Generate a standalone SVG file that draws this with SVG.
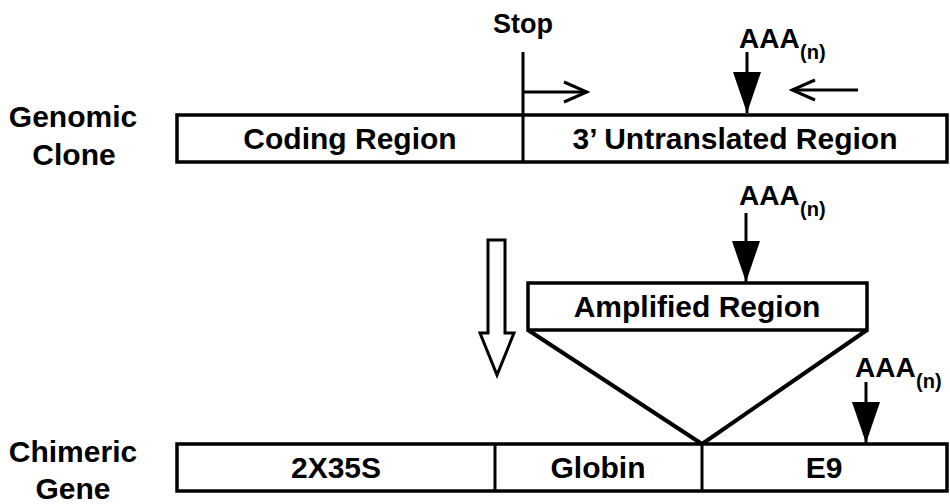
<svg xmlns="http://www.w3.org/2000/svg" width="950" height="504" viewBox="0 0 950 504">
<style>
text{font-family:"Liberation Sans",Arial,Helvetica,sans-serif;fill:#000;text-anchor:middle;font-weight:bold;}
.lbl{font-size:30px;}
.big{font-size:30px;}
.aaa{font-size:28px;text-anchor:start;}
.sub{font-size:20px;text-anchor:start;}
.box{fill:#fff;stroke:#000;stroke-width:3.5;}
.div{stroke:#000;stroke-width:3;fill:none;}
.shaft{stroke:#000;stroke-width:3;fill:none;}
.open{stroke:#000;stroke-width:3;fill:none;}
.trap{stroke:#000;stroke-width:4;fill:none;}
</style>
<defs>
<marker id="filled" markerUnits="userSpaceOnUse" markerWidth="42" markerHeight="28" viewBox="0 0 42 28" refX="41" refY="14" orient="auto">
<path d="M0,0 L41,14 L0,28 z" fill="#000"/>
</marker>
<marker id="openhead" markerUnits="userSpaceOnUse" markerWidth="28" markerHeight="26" viewBox="0 0 28 26" refX="25" refY="13" orient="auto">
<path d="M2,3 L25,13 L2,23" fill="none" stroke="#000" stroke-width="3"/>
</marker>
</defs>

<g id="label-genomic">
<text class="lbl" x="73" y="127">Genomic</text>
<text class="lbl" x="74" y="165">Clone</text>
</g>
<g id="label-chimeric">
<text class="lbl" x="73" y="462">Chimeric</text>
<text class="lbl" x="73" y="499">Gene</text>
</g>

<g id="genomic-clone">
<rect class="box" x="177" y="115" width="770" height="47"/>
<line class="div" x1="523" y1="52" x2="523" y2="162"/>
<text class="big" x="350" y="149">Coding Region</text>
<text class="big" x="735" y="149">3’ Untranslated Region</text>
</g>

<g id="stop">
<text style="font-size:27px" x="523" y="33">Stop</text>
</g>

<g id="amplified-region">
<rect class="box" x="528" y="283" width="339" height="47"/>
<text class="big" x="697" y="317">Amplified Region</text>
</g>

<g id="chimeric-gene">
<rect class="box" x="177" y="444" width="770" height="47"/>
<line class="div" x1="495" y1="444" x2="495" y2="491"/>
<line class="div" x1="702" y1="444" x2="702" y2="491"/>
<text class="big" x="336" y="478">2X35S</text>
<text class="big" x="598" y="478">Globin</text>
<text class="big" x="824" y="478">E9</text>
</g>

<g id="polyA-1">
<text class="aaa" x="739" y="48">AAA</text>
<text class="sub" x="800" y="59">(n)</text>
</g>
<g id="polyA-2">
<text class="aaa" x="739" y="205">AAA</text>
<text class="sub" x="800" y="216">(n)</text>
</g>
<g id="polyA-3">
<text class="aaa" x="855" y="377">AAA</text>
<text class="sub" x="916" y="388">(n)</text>
</g>

<g id="transfer-arrow">
<path d="M488,240 L505,240 L505,333 L514,333 L497,375 L480,333 L488,333 Z" fill="#fff" stroke="#000" stroke-width="3" stroke-linejoin="miter"/>
</g>

<g id="connectors">
<line class="shaft" x1="747" y1="52" x2="747" y2="113" marker-end="url(#filled)"/>
<line class="shaft" x1="746" y1="213" x2="746" y2="282" marker-end="url(#filled)"/>
<line class="shaft" x1="866" y1="382" x2="866" y2="443" marker-end="url(#filled)"/>
<line class="open" x1="523" y1="92" x2="587" y2="92" marker-end="url(#openhead)"/>
<line class="open" x1="858" y1="90" x2="792" y2="90" marker-end="url(#openhead)"/>
<polyline class="trap" points="528,330 702,444 867,330"/>
</g>
</svg>
